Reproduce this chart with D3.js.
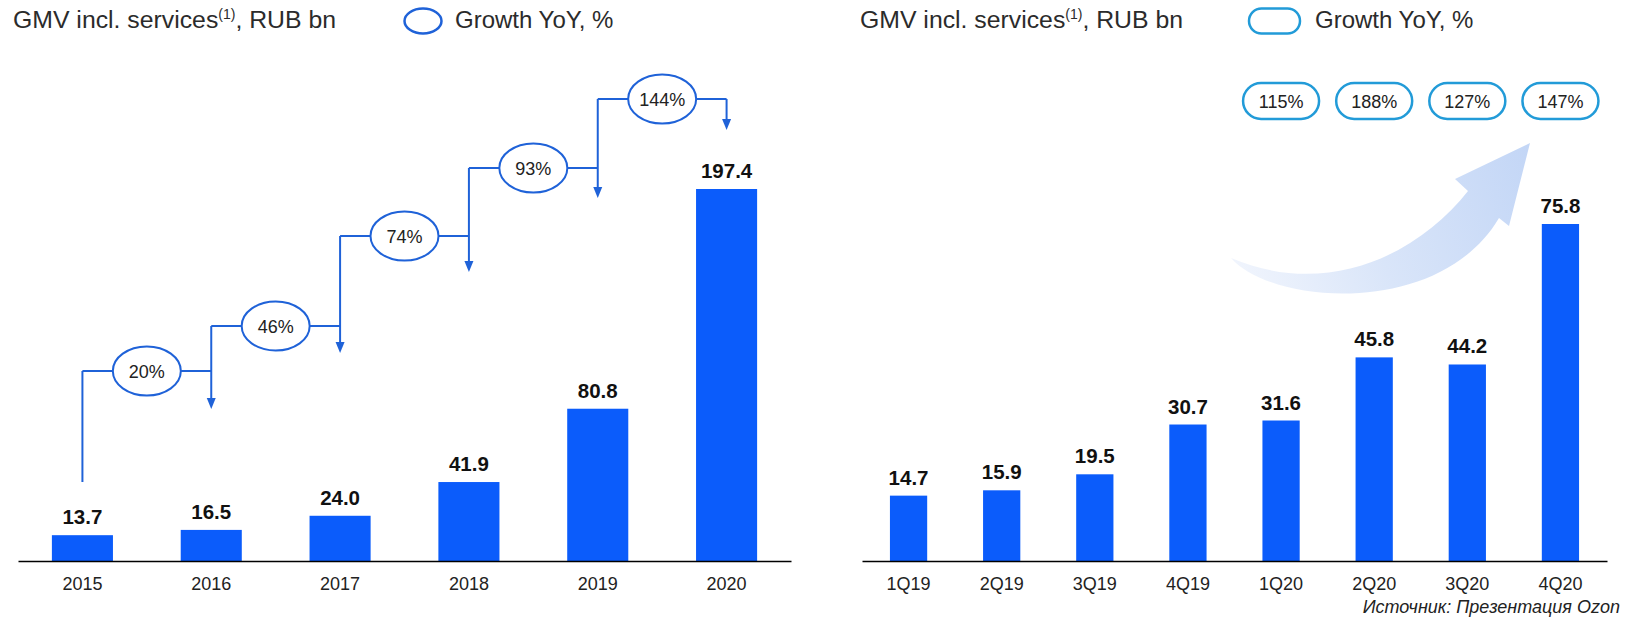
<!DOCTYPE html>
<html><head><meta charset="utf-8">
<script src="https://cdn.jsdelivr.net/npm/d3@7"></script>
<style>
body{margin:0;background:#fff;}
svg{display:block;font-family:"Liberation Sans",Arial,sans-serif;}
</style>
</head><body><script>
// ---- data ----
const years = ["2015","2016","2017","2018","2019","2020"];
const gmvAnnual = [13.7,16.5,24.0,41.9,80.8,197.4];
const growthAnnual = [20,46,74,93,144];
const quarters = ["1Q19","2Q19","3Q19","4Q19","1Q20","2Q20","3Q20","4Q20"];
const gmvQuarterly = [14.7,15.9,19.5,30.7,31.6,45.8,44.2,75.8];
const growthQuarters = ["1Q20","2Q20","3Q20","4Q20"];
const growthQuarterly = [115,188,127,147];
const titleMain = "GMV incl. services";
const titleSup = "(1)";
const titleRest = ", RUB bn";
const legendLabel = "Growth YoY, %";
const sourceLabel = "Источник: Презентация Ozon";

// ---- layout ----
const W = 1647, H = 621, baseY = 561;
const barColor = "#0b5cfb";
const stepColor = "#1f62d8";
const pillColor = "#229bd8";
const stepLevels = [371, 326, 236, 168, 99];
const stepTips = [409, 353, 272, 198, 130];
const stepStartY = 482;

const svg = d3.select("body").append("svg").attr("width", W).attr("height", H);
const fmt = d3.format(".1f");

function title(x) {
  const t = svg.append("text").attr("x", x).attr("y", 28)
    .attr("font-size", 24.8).attr("fill", "#2b2b2b");
  t.append("tspan").text(titleMain);
  t.append("tspan").attr("font-size", 14).attr("dy", -9).text(titleSup);
  t.append("tspan").attr("dy", 9).text(titleRest);
}

// ================= LEFT CHART =================
title(13);
svg.append("ellipse").attr("cx", 423).attr("cy", 21).attr("rx", 18.5).attr("ry", 12.5)
  .attr("fill", "none").attr("stroke", stepColor).attr("stroke-width", 2.5);
svg.append("text").attr("x", 455).attr("y", 28).attr("font-size", 24).attr("fill", "#2b2b2b").text(legendLabel);

const xL = d3.scaleBand().domain(years).range([18, 791]).paddingInner(0.526).paddingOuter(0.263);
const yL = d3.scaleLinear().domain([0, d3.max(gmvAnnual)]).range([baseY, 189]);

const gL = svg.append("g");
gL.selectAll("rect").data(years).join("rect")
  .attr("x", d => xL(d)).attr("width", xL.bandwidth())
  .attr("y", (d, i) => yL(gmvAnnual[i])).attr("height", (d, i) => baseY - yL(gmvAnnual[i]))
  .attr("fill", barColor);
gL.selectAll("text.val").data(years).join("text").attr("class", "val")
  .attr("x", d => xL(d) + xL.bandwidth() / 2).attr("y", (d, i) => yL(gmvAnnual[i]) - 11)
  .attr("text-anchor", "middle").attr("font-size", 20.5).attr("font-weight", "bold").attr("fill", "#111")
  .text((d, i) => fmt(gmvAnnual[i]));

const axL = svg.append("g").attr("transform", `translate(0,${baseY})`)
  .call(d3.axisBottom(xL).tickSize(0).tickSizeOuter(0).tickPadding(16));
axL.select(".domain").attr("stroke", "#000").attr("stroke-width", 1.3);
axL.selectAll("text").attr("font-size", 18).attr("fill", "#222").attr("font-family", "Liberation Sans, Arial, sans-serif");

// step annotations
const cx = d => xL(d) + xL.bandwidth() / 2;
const gS = svg.append("g");
function arrowHead(x, tipY) {
  gS.append("path").attr("d", `M${x - 4.5},${tipY - 11}L${x + 4.5},${tipY - 11}L${x},${tipY}Z`).attr("fill", stepColor);
}
growthAnnual.forEach((g, i) => {
  const x0 = cx(years[i]), x1 = cx(years[i + 1]);
  const ly = stepLevels[i];
  if (i === 0) {
    gS.append("line").attr("x1", x0).attr("x2", x0).attr("y1", stepStartY).attr("y2", ly)
      .attr("stroke", stepColor).attr("stroke-width", 2);
  }
  gS.append("line").attr("x1", x0).attr("x2", x1).attr("y1", ly).attr("y2", ly)
    .attr("stroke", stepColor).attr("stroke-width", 2);
  // vertical at the next year: from its own level (or this level, for the last) down to the arrow tip
  const topY = i + 1 < stepLevels.length ? stepLevels[i + 1] : ly;
  gS.append("line").attr("x1", x1).attr("x2", x1).attr("y1", topY).attr("y2", stepTips[i] - 8)
    .attr("stroke", stepColor).attr("stroke-width", 2);
  arrowHead(x1, stepTips[i]);
});
growthAnnual.forEach((g, i) => {
  const mx = (cx(years[i]) + cx(years[i + 1])) / 2;
  gS.append("ellipse").attr("cx", mx).attr("cy", stepLevels[i]).attr("rx", 34).attr("ry", 24.5)
    .attr("fill", "#fff").attr("stroke", stepColor).attr("stroke-width", 2);
  gS.append("text").attr("x", mx).attr("y", stepLevels[i] + 6.5).attr("text-anchor", "middle")
    .attr("font-size", 18).attr("fill", "#222").text(g + "%");
});

// ================= RIGHT CHART =================
title(860);
svg.append("rect").attr("x", 1249).attr("y", 8.5).attr("width", 51).attr("height", 25).attr("rx", 12.5)
  .attr("fill", "none").attr("stroke", pillColor).attr("stroke-width", 2.5);
svg.append("text").attr("x", 1315).attr("y", 28).attr("font-size", 24).attr("fill", "#2b2b2b").text(legendLabel);

const xR = d3.scaleBand().domain(quarters).range([862, 1607]).paddingInner(0.6).paddingOuter(0.3);
const yR = d3.scaleLinear().domain([0, d3.max(gmvQuarterly)]).range([baseY, 224]);

// big curved arrow
const defs = svg.append("defs");
const grad = defs.append("linearGradient").attr("id", "arrowGrad")
  .attr("gradientUnits", "userSpaceOnUse").attr("x1", 1231).attr("y1", 270).attr("x2", 1530).attr("y2", 150);
grad.append("stop").attr("offset", 0).attr("stop-color", "#f1f5fd");
grad.append("stop").attr("offset", 0.45).attr("stop-color", "#d9e5f9");
grad.append("stop").attr("offset", 1).attr("stop-color", "#c3d6f6");
svg.append("path")
  .attr("d", "M1231,258 C1272,305 1440,318 1499,218 L1509,226 L1530,143 L1455,179 L1468,191 C1420,252 1330,300 1231,258 Z")
  .attr("fill", "url(#arrowGrad)");

const gR = svg.append("g");
gR.selectAll("rect").data(quarters).join("rect")
  .attr("x", d => xR(d)).attr("width", xR.bandwidth())
  .attr("y", (d, i) => yR(gmvQuarterly[i])).attr("height", (d, i) => baseY - yR(gmvQuarterly[i]))
  .attr("fill", barColor);
gR.selectAll("text.val").data(quarters).join("text").attr("class", "val")
  .attr("x", d => xR(d) + xR.bandwidth() / 2).attr("y", (d, i) => yR(gmvQuarterly[i]) - 11)
  .attr("text-anchor", "middle").attr("font-size", 20.5).attr("font-weight", "bold").attr("fill", "#111")
  .text((d, i) => fmt(gmvQuarterly[i]));

const axR = svg.append("g").attr("transform", `translate(0,${baseY})`)
  .call(d3.axisBottom(xR).tickSize(0).tickSizeOuter(0).tickPadding(16));
axR.select(".domain").attr("stroke", "#000").attr("stroke-width", 1.3);
axR.selectAll("text").attr("font-size", 18).attr("fill", "#222").attr("font-family", "Liberation Sans, Arial, sans-serif");

// growth pills
const gP = svg.append("g");
growthQuarters.forEach((q, i) => {
  const x = xR(q) + xR.bandwidth() / 2;
  gP.append("rect").attr("x", x - 38).attr("y", 83).attr("width", 76).attr("height", 36).attr("rx", 18)
    .attr("fill", "#fff").attr("stroke", pillColor).attr("stroke-width", 2.5);
  gP.append("text").attr("x", x).attr("y", 107.5).attr("text-anchor", "middle")
    .attr("font-size", 18).attr("fill", "#222").text(growthQuarterly[i] + "%");
});

svg.append("text").attr("x", 1620).attr("y", 613).attr("text-anchor", "end")
  .attr("font-size", 18).attr("font-style", "italic").attr("fill", "#222").text(sourceLabel);
</script></body></html>
